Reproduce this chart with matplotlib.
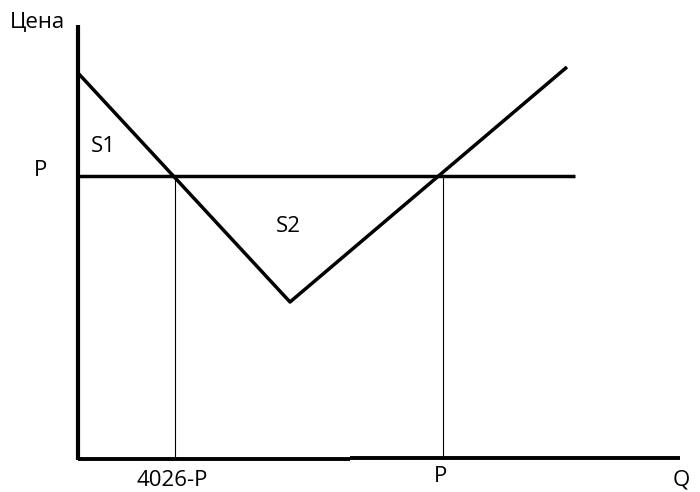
import matplotlib.pyplot as plt

# geometry of the sketch, in picture pixels (y grows downwards)
axis_x = [78, 78]
axis_y = [25, 460]
q_axis_x = [[78, 350], [350, 680]]
q_axis_y = [[458.5, 458.5], [457.5, 457.5]]
price_x = [78, 575]
price_y = [176, 176]
curve_x = [78, 290, 567]
curve_y = [73, 302, 67]
drop_x = [175, 443]
drop_top = 176
drop_bottom = 459

labels = ["Цена", "P", "S1", "S2", "4026-P", "P", "Q"]
label_x = [38, 40, 103, 288, 172, 440, 681]
label_y = [23, 171, 147, 226, 480, 477, 480]

plt.rcParams['font.family'] = ['Open Sans', 'DejaVu Sans']

fig = plt.figure(figsize=(7, 4.92), dpi=100)
ax = fig.add_axes([0, 0, 1, 1])
ax.set_xlim(0, 700)
ax.set_ylim(492, 0)
ax.axis('off')

ax.plot(axis_x, axis_y, color='black', lw=3.0, solid_capstyle='butt')
for xs, ys in zip(q_axis_x, q_axis_y):
    ax.plot(xs, ys, color='black', lw=2.8, solid_capstyle='butt')
ax.plot(price_x, price_y, color='black', lw=2.5, solid_capstyle='butt')
ax.plot(curve_x, curve_y, color='black', lw=2.5, solid_capstyle='butt')
for x in drop_x:
    ax.plot([x, x], [drop_top, drop_bottom], color='black', lw=0.8)

for t, x, y in zip(labels, label_x, label_y):
    ax.text(x, y, t, ha='center', va='center', fontsize=16, color='black')

fig.savefig('out.png', dpi=100)
